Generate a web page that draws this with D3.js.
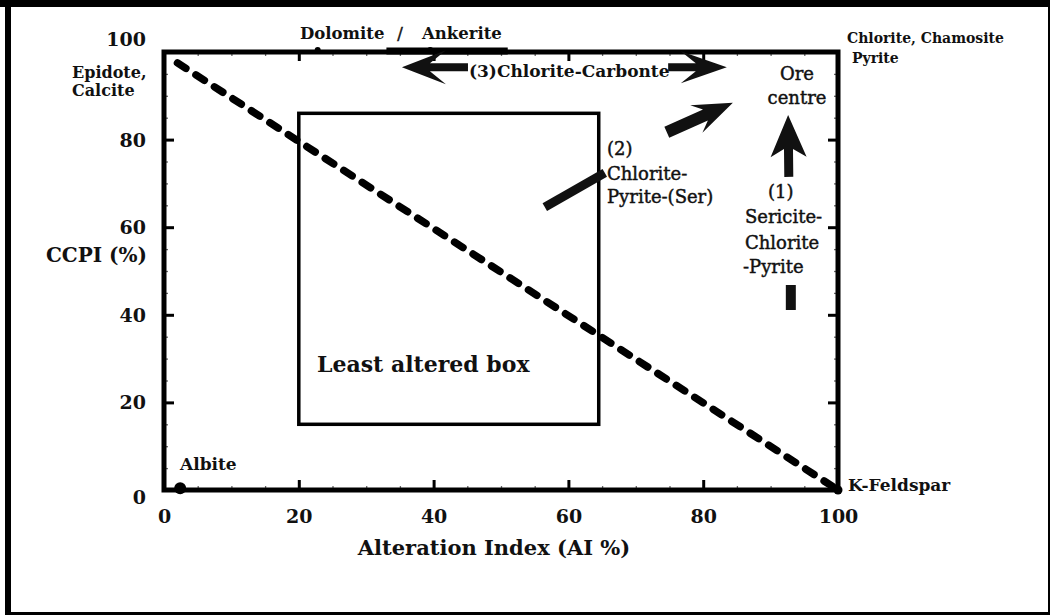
<!DOCTYPE html>
<html><head><meta charset="utf-8">
<script src="https://cdn.jsdelivr.net/npm/d3@7"></script>
<style>body{margin:0;background:#fff}svg{display:block}</style>
</head><body>
<script>
// ---- data (chart units: AI % on x, CCPI % on y) ----
const xTicks = [0, 20, 40, 60, 80, 100];
const yTicks = [0, 20, 40, 60, 80, 100];
const minorTicks = [5, 10, 15, 25, 30, 35, 45, 50, 55, 65, 70, 75, 85, 90, 95];
const trendLine = [[2, 97.5], [100, 0]];
const leastAlteredBox = [[20, 15], [64.5, 86]];
const endMembers = [[2.4, 0.4], [100, 0], [22.8, 100], [39.5, 100]];
const carbonateBar = [[33, 100], [51, 100]];
const arrowsFrom = [[45.1, 96.5], [74.8, 96.5], [74.6, 81.7], [92.7, 71.5]];
const arrowsTo   = [[35.3, 96.5], [83.5, 96.5], [84.4, 88.4], [92.6, 85.6]];
const barsFrom = [[56.5, 64.6], [93.0, 41.1]];
const barsTo   = [[65.4, 72.4], [93.0, 46.8]];

// ---- layout ----
const W = 1050, H = 615;
const svg = d3.select("body").append("svg").attr("width", W).attr("height", H);
const x = d3.scaleLinear().domain([0, 100]).range([164, 838]);
const y = d3.scaleLinear().domain([0, 100]).range([490, 52]);
const FONT = "'DejaVu Serif', serif";

// outer frame
[[0,0,1050,7],[5,0,6,615],[5,612,1045,3],[1048,0,2,615]].forEach(r =>
  svg.append("rect").attr("x", r[0]).attr("y", r[1]).attr("width", r[2]).attr("height", r[3]).attr("fill", "#000"));

function axisG(gen, tx, ty) {
  return svg.append("g").attr("transform", `translate(${tx},${ty})`).call(gen);
}
// minor ticks (all four sides)
const minors = [
  axisG(d3.axisBottom(x).tickValues(minorTicks).tickSize(-4).tickFormat(""), 0, y(0)),
  axisG(d3.axisTop(x).tickValues(minorTicks).tickSize(-4).tickFormat(""), 0, y(100)),
  axisG(d3.axisLeft(y).tickValues(minorTicks).tickSize(-4).tickFormat(""), x(0), 0),
  axisG(d3.axisRight(y).tickValues(minorTicks).tickSize(-4).tickFormat(""), x(100), 0)
];
minors.forEach(g => { g.select(".domain").remove(); g.selectAll("line").attr("stroke", "#666").attr("stroke-width", 1.3); });

// major ticks
const bottomAx = axisG(d3.axisBottom(x).tickValues(xTicks).tickSize(-10).tickFormat(d3.format("d")), 0, y(0));
const leftAx = axisG(d3.axisLeft(y).tickValues(yTicks).tickSize(-10).tickFormat(d3.format("d")), x(0), 0);
const topAx = axisG(d3.axisTop(x).tickValues(xTicks.slice(1, 5)).tickSize(-9).tickFormat(""), 0, y(100));
const rightAx = axisG(d3.axisRight(y).tickValues(yTicks.slice(1, 5)).tickSize(-10).tickFormat(""), x(100), 0);
[bottomAx, leftAx, topAx, rightAx].forEach(g => {
  g.select(".domain").remove();
  g.selectAll("line").attr("stroke", "#000").attr("stroke-width", 3);
});
bottomAx.selectAll("text").attr("y", 33).attr("dy", null)
  .attr("font-family", FONT).attr("font-weight", "bold").attr("font-size", 19).attr("fill", "#111");
leftAx.selectAll("text").attr("x", -18).attr("dy", null)
  .attr("y", d => d === 100 ? -7 : d === 0 ? 13 : 6.5)
  .attr("font-family", FONT).attr("font-weight", "bold").attr("font-size", 19).attr("fill", "#111");

// plot frame
svg.append("rect").attr("x", x(0)).attr("y", y(100)).attr("width", x(100) - x(0)).attr("height", y(0) - y(100))
  .attr("fill", "none").attr("stroke", "#000").attr("stroke-width", 5);

// thick carbonate segment on top axis
svg.append("line").attr("x1", x(carbonateBar[0][0])).attr("x2", x(carbonateBar[1][0]))
  .attr("y1", y(carbonateBar[0][1]) - 1).attr("y2", y(carbonateBar[1][1]) - 1)
  .attr("stroke", "#000").attr("stroke-width", 7);

// end-member dots
const dotR = [6, 4.5, 3, 3];
svg.selectAll(".em").data(endMembers).join("circle")
  .attr("cx", d => x(d[0])).attr("cy", (d, i) => y(d[1]) + (i >= 2 ? -2 : 0))
  .attr("r", (d, i) => dotR[i]).attr("fill", "#000");

// least altered box
svg.append("rect")
  .attr("x", x(leastAlteredBox[0][0])).attr("y", y(leastAlteredBox[1][1]))
  .attr("width", x(leastAlteredBox[1][0]) - x(leastAlteredBox[0][0]))
  .attr("height", y(leastAlteredBox[0][1]) - y(leastAlteredBox[1][1]))
  .attr("fill", "none").attr("stroke", "#000").attr("stroke-width", 3.5);

// dashed trend line
svg.append("path").datum(trendLine)
  .attr("d", d3.line().x(d => x(d[0])).y(d => y(d[1])))
  .attr("fill", "none").attr("stroke", "#000").attr("stroke-width", 7.5)
  .attr("stroke-dasharray", "10 12").attr("stroke-linecap", "round");

// arrows
const arrowStyle = [
  {sw: 8, hl: 44, hw: 34, notch: 16},
  {sw: 8, hl: 46, hw: 32, notch: 15},
  {sw: 12, hl: 40, hw: 30, notch: 10},
  {sw: 9, hl: 42, hw: 36, notch: 8}
];
function arrowPath(p1, p2, s) {
  const dx = p2[0] - p1[0], dy = p2[1] - p1[1], L = Math.hypot(dx, dy);
  const ux = dx / L, uy = dy / L, nx = -uy, ny = ux;
  const back = [p2[0] - ux * s.hl, p2[1] - uy * s.hl];
  const neck = [p2[0] - ux * (s.hl - s.notch), p2[1] - uy * (s.hl - s.notch)];
  const pts = [
    [p1[0] + nx * s.sw / 2, p1[1] + ny * s.sw / 2],
    [neck[0] + nx * s.sw / 2, neck[1] + ny * s.sw / 2],
    [back[0] + nx * s.hw / 2, back[1] + ny * s.hw / 2],
    p2,
    [back[0] - nx * s.hw / 2, back[1] - ny * s.hw / 2],
    [neck[0] - nx * s.sw / 2, neck[1] - ny * s.sw / 2],
    [p1[0] - nx * s.sw / 2, p1[1] - ny * s.sw / 2]
  ];
  return "M" + pts.map(p => p.join(",")).join("L") + "Z";
}
svg.selectAll(".arrow").data(arrowsFrom).join("path")
  .attr("d", (d, i) => arrowPath([x(d[0]), y(d[1])], [x(arrowsTo[i][0]), y(arrowsTo[i][1])], arrowStyle[i]))
  .attr("fill", "#111");
const barW = [9, 10];
svg.selectAll(".bar").data(barsFrom).join("line")
  .attr("x1", d => x(d[0])).attr("y1", d => y(d[1]))
  .attr("x2", (d, i) => x(barsTo[i][0])).attr("y2", (d, i) => y(barsTo[i][1]))
  .attr("stroke", "#111").attr("stroke-width", (d, i) => barW[i]);

// annotation texts: [text, x, y, anchor, size, weight]
const labels = [
  ["Epidote,", 72, 78, "start", 16, "bold"],
  ["Calcite", 72, 96, "start", 16, "bold"],
  ["Dolomite", 300, 39, "start", 16.5, "bold"],
  ["/", 400, 39, "middle", 16.5, "normal"],
  ["Ankerite", 422, 39, "start", 16.5, "bold"],
  ["(3)Chlorite-Carbonte", 469, 77, "start", 17, "bold"],
  ["Chlorite, Chamosite", 847, 43, "start", 14, "bold"],
  ["Pyrite", 852, 63, "start", 14, "bold"],
  ["Ore", 797, 80, "middle", 18, "normal"],
  ["centre", 797, 104, "middle", 18, "normal"],
  ["(2)", 607, 155, "start", 18, "normal"],
  ["Chlorite-", 607, 180, "start", 18, "normal"],
  ["Pyrite-(Ser)", 607, 203, "start", 18, "normal"],
  ["(1)", 768, 198, "start", 18, "normal"],
  ["Sericite-", 745, 223, "start", 18, "normal"],
  ["Chlorite", 745, 249, "start", 18, "normal"],
  ["-Pyrite", 743, 273, "start", 18, "normal"],
  ["Least altered box", 317, 372, "start", 22, "bold"],
  ["Albite", 180, 470, "start", 17, "bold"],
  ["K-Feldspar", 848, 491, "start", 17, "bold"],
  ["CCPI (%)", 147, 262, "end", 20, "bold"],
  ["Alteration Index (AI %)", 494, 555, "middle", 21, "bold"]
];
svg.selectAll(".lbl").data(labels).join("text")
  .attr("x", d => d[1]).attr("y", d => d[2]).attr("text-anchor", d => d[3])
  .attr("font-size", d => d[4]).attr("font-weight", d => d[5])
  .attr("font-family", FONT).attr("fill", "#111")
  .attr("stroke", d => d[5] === "normal" ? "#111" : "none")
  .attr("stroke-width", d => d[5] === "normal" ? 0.45 : 0)
  .text(d => d[0]);
</script>
</body></html>
